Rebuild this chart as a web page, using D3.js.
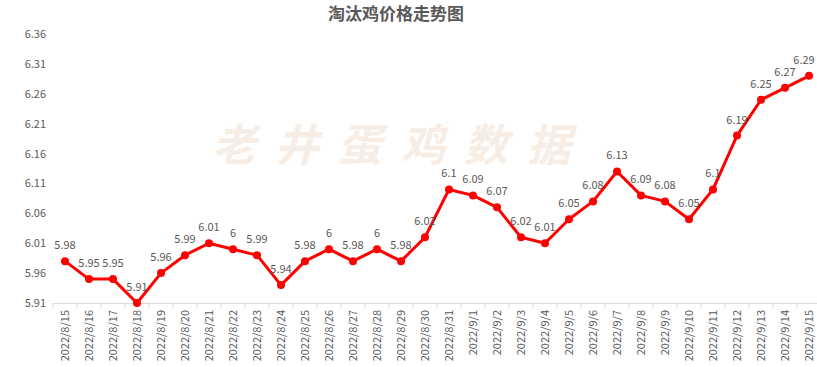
<!DOCTYPE html>
<html><head><meta charset="utf-8">
<script src="https://cdn.jsdelivr.net/npm/d3@7/dist/d3.min.js"></script>
<style>body{margin:0;background:#fff}svg{display:block}</style>
</head><body>
<script>
const title = "淘汰鸡价格走势图";
const watermark = "老井蛋鸡数据";
const dates = ["2022/8/15","2022/8/16","2022/8/17","2022/8/18","2022/8/19","2022/8/20","2022/8/21","2022/8/22","2022/8/23","2022/8/24","2022/8/25","2022/8/26","2022/8/27","2022/8/28","2022/8/29","2022/8/30","2022/8/31","2022/9/1","2022/9/2","2022/9/3","2022/9/4","2022/9/5","2022/9/6","2022/9/7","2022/9/8","2022/9/9","2022/9/10","2022/9/11","2022/9/12","2022/9/13","2022/9/14","2022/9/15"];
const prices = [5.98,5.95,5.95,5.91,5.96,5.99,6.01,6,5.99,5.94,5.98,6,5.98,6,5.98,6.02,6.1,6.09,6.07,6.02,6.01,6.05,6.08,6.13,6.09,6.08,6.05,6.1,6.19,6.25,6.27,6.29];
const yTicks = [5.91,5.96,6.01,6.06,6.11,6.16,6.21,6.26,6.31,6.36];

const W = 817, H = 367;
const svg = d3.select("body").append("svg").attr("width", W).attr("height", H);
const font = "'Microsoft YaHei','Noto Sans CJK SC','DejaVu Sans',sans-serif";

const x = d3.scaleBand().domain(dates).range([53, 821]);
const y = d3.scaleLinear().domain([5.91, 6.36]).range([303, 34]);

// watermark
svg.append("text").attr("x", 401).attr("y", 161).attr("text-anchor", "middle")
  .attr("font-family", "'Noto Sans CJK SC',sans-serif").attr("font-size", 44).attr("font-weight", 700)
  .attr("font-style", "italic").attr("letter-spacing", 19)
  .attr("fill", "#F8EDE4").text(watermark);

// title
svg.append("text").attr("x", 396).attr("y", 20).attr("text-anchor", "middle")
  .attr("font-family", "'Noto Sans CJK SC',serif").attr("font-size", 17).attr("font-weight", 700)
  .attr("fill", "#595959").text(title);

// y axis labels
const yAxis = svg.append("g").attr("transform", "translate(46,0)")
  .call(d3.axisLeft(y).tickValues(yTicks).tickSize(0).tickPadding(0).tickFormat(d3.format(".2f")));
yAxis.select(".domain").remove();
yAxis.selectAll("text").attr("font-family", font).attr("font-size", 11).attr("fill", "#595959");

// x axis
const xAxis = svg.append("g").attr("transform", "translate(0,303)")
  .call(d3.axisBottom(x).tickSize(0));
xAxis.select(".domain").attr("stroke", "#d9d9d9").attr("stroke-width", 1);
xAxis.selectAll("text").attr("font-family", font).attr("font-size", 11).attr("fill", "#595959")
  .attr("transform", "rotate(-90)").attr("text-anchor", "end").attr("dy", "0.35em").attr("x", -7).attr("y", 0);
// category boundary ticks
svg.append("g").selectAll("line").data(dates.concat(["_end"])).join("line")
  .attr("x1", (d,i) => 53 + i * x.step()).attr("x2", (d,i) => 53 + i * x.step())
  .attr("y1", 303).attr("y2", 308).attr("stroke", "#d9d9d9");

const cx = d => x(d) + x.bandwidth() / 2;
const line = d3.line().x((d,i) => cx(dates[i])).y(d => y(d));
svg.append("path").datum(prices).attr("d", line).attr("fill", "none")
  .attr("stroke", "#FF0000").attr("stroke-width", 3).attr("stroke-linejoin", "round");
svg.append("g").selectAll("circle").data(prices).join("circle")
  .attr("cx", (d,i) => cx(dates[i])).attr("cy", d => y(d)).attr("r", 4).attr("fill", "#FF0000");
svg.append("g").selectAll("text").data(prices).join("text")
  .attr("x", (d,i) => Math.min(cx(dates[i]), W - 13)).attr("y", d => y(d) - 12).attr("text-anchor", "middle")
  .attr("font-family", font).attr("font-size", 11).attr("fill", "#595959")
  .text(d => d3.format("")(d));
</script>
</body></html>
